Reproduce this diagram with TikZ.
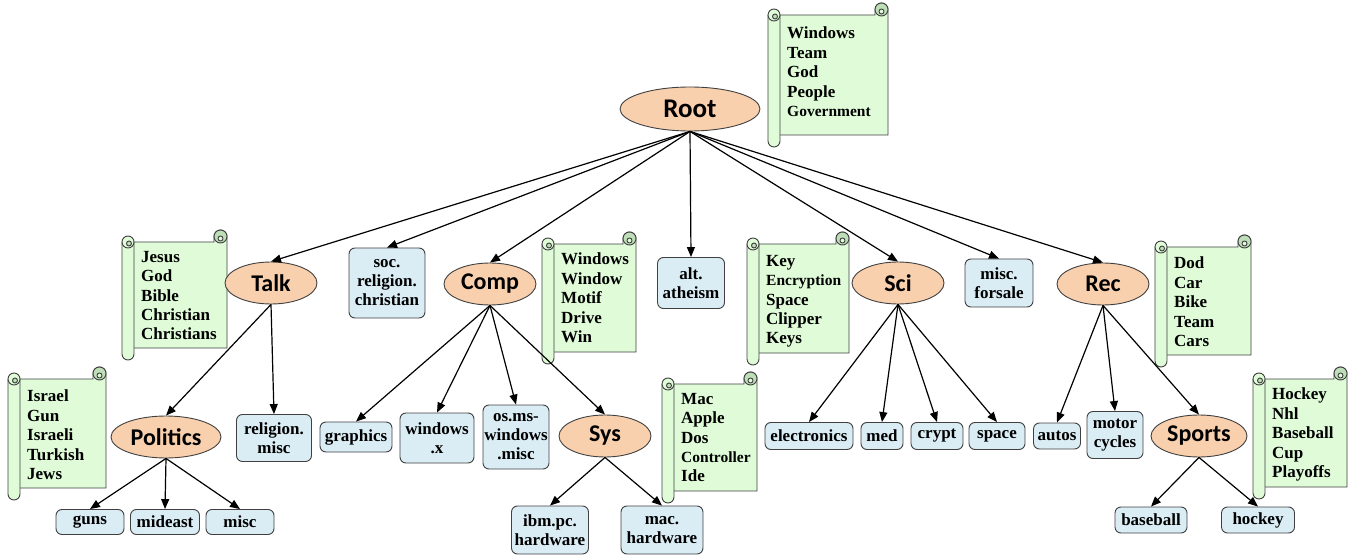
\documentclass[tikz,border=0pt]{standalone}
\usepackage{fontspec}
\setmainfont{Liberation Serif}
\newfontfamily\ellfont{Carlito}
\usetikzlibrary{arrows.meta,shapes.geometric}
\definecolor{scrollfill}{RGB}{223,251,216}
\definecolor{scrolldark}{RGB}{190,222,184}
\definecolor{leafblue}{RGB}{218,236,244}
\definecolor{peach}{RGB}{249,208,174}
\definecolor{edgegray}{RGB}{64,64,64}
\tikzset{
  topic/.style={ellipse, draw=edgegray, line width=0.9pt, fill=peach, inner sep=0pt,
    minimum width=92pt, minimum height=42pt, font=\ellfont\bfseries\fontsize{24}{26}\selectfont},
  leaf/.style={draw=edgegray, line width=0.9pt, fill=leafblue, rounded corners=6pt,
    inner sep=0pt, align=center, font=\bfseries\fontsize{17}{19}\selectfont},
  link/.style={line width=1.2pt, -{Triangle[length=10pt,width=8pt]}},
  scrollline/.style={draw=edgegray, line width=0.9pt},
  words/.style={inner sep=0pt, align=left, font=\bfseries\fontsize{17}{19.4}\selectfont},
}
\newcommand{\wordscroll}[7]{%
  \draw[scrollline, fill=scrollfill] ({#2+6},{#3+12}) -- ({#4-13},{#3+12}) -- ({#4-13},{#3+6.5})
     arc[start angle=180,end angle=360,radius=6.5] -- (#4,{#5-12}) -- ({#2+6},{#5-12}) -- cycle;
  \draw[scrollline, fill=scrolldark] ({#4-6.5},{#3+6.5}) circle[radius=6.5];
  \draw[scrollline, fill=scrollfill] ({#4-6.5},{#3+8.5}) circle[radius=2.5];
  \draw[scrollline, fill=scrollfill] (#2,{#3+12}) -- (#2,{#5-6})
     arc[start angle=180,end angle=0,radius=6] -- ({#2+12},{#3+12});
  \draw[scrollline, fill=scrollfill] ({#2+6},{#3+12}) circle[radius=6];
  \draw[scrollline, fill=scrolldark] ({#2+7},{#3+13.5}) circle[radius=2.5];
  \node[words, anchor=north west] (#1) at ({#2+19},{#3+#6}) {#7};
}
\begin{document}
\begin{tikzpicture}[x=1pt,y=-1pt]
\useasboundingbox (0,0) rectangle (1355,556);

% scrolls
\wordscroll{rootwords}{768}{3}{888}{147}{24}{Windows\\Team\\God\\People\\{\fontsize{15.5}{19.4}\selectfont Government}}
\wordscroll{talkwords}{122}{230}{227}{360}{21}{Jesus\\God\\Bible\\Christian\\Christians}
\wordscroll{polwords}{8}{367}{106}{500}{23}{Israel\\Gun\\Israeli\\Turkish\\Jews}
\wordscroll{compwords}{542}{232}{636}{364}{21}{Windows\\Window\\Motif\\Drive\\Win}
\wordscroll{sciwords}{747}{232}{849}{365}{23}{Key\\{\fontsize{15.5}{19.4}\selectfont Encryption}\\Space\\Clipper\\Keys}
\wordscroll{recwords}{1155}{235}{1251}{367}{22}{Dod\\Car\\Bike\\Team\\Cars}
\wordscroll{syswords}{662}{372}{757}{503}{21}{Mac\\Apple\\Dos\\{\fontsize{15.5}{19.4}\selectfont Controller}\\Ide}
\wordscroll{sportswords}{1253}{367}{1347}{499}{21}{Hockey\\Nhl\\Baseball\\Cup\\Playoffs}

% topic nodes
\node[topic, minimum width=140pt, minimum height=44pt, font=\ellfont\bfseries\fontsize{27}{29}\selectfont] (root) at (690,109) {Root};
\node[topic] (talk) at (271,283) {Talk};
\node[topic] (comp) at (490,284) {Comp};
\node[topic] (sci) at (898,283) {Sci};
\node[topic] (rec) at (1103,284) {Rec};
\node[topic, minimum width=110pt] (politics) at (166,437) {Politics};
\node[topic] (sys) at (605,436) {Sys};
\node[topic, minimum width=96pt] (sports) at (1199,436) {Sports};

% leaf nodes
\node[leaf, minimum width=76pt, minimum height=70pt] (soc) at (387,283) {soc.\\religion.\\christian};
\node[leaf, minimum width=67pt, minimum height=51pt] (alt) at (691,283) {alt.\\atheism};
\node[leaf, minimum width=68pt, minimum height=48pt] (forsale) at (999,283) {misc.\\forsale};
\node[leaf, minimum width=75pt, minimum height=47pt] (relmisc) at (274,438) {religion.\\misc};
\node[leaf, minimum width=72pt, minimum height=30pt] (graphics) at (356,437) {graphics};
\node[leaf, minimum width=74pt, minimum height=50pt] (winx) at (437,438) {windows\\.x};
\node[leaf, minimum width=66pt, minimum height=64pt] (osms) at (516,437) {os.ms-\\windows\\.misc};
\node[leaf, minimum width=88pt, minimum height=27pt] (electronics) at (809,436) {electronics};
\node[leaf, minimum width=42pt, minimum height=27pt] (med) at (882,436) {med};
\node[leaf, minimum width=52pt, minimum height=27pt] (crypt) at (937,436) {crypt};
\node[leaf, minimum width=56pt, minimum height=27pt] (space) at (997,436) {space};
\node[leaf, minimum width=47pt, minimum height=26pt] (autos) at (1057,436) {autos};
\node[leaf, minimum width=56pt, minimum height=47pt] (motor) at (1115,435) {motor\\cycles};
\node[leaf, minimum width=68pt, minimum height=25pt] (guns) at (90,522) {guns};
\node[leaf, minimum width=69pt, minimum height=25pt] (mideast) at (165,522) {mideast};
\node[leaf, minimum width=68pt, minimum height=25pt] (misc) at (240,522) {misc};
\node[leaf, minimum width=77pt, minimum height=48pt] (ibm) at (550,530) {ibm.pc.\\hardware};
\node[leaf, minimum width=82pt, minimum height=48pt] (mac) at (662,530) {mac.\\hardware};
\node[leaf, minimum width=72pt, minimum height=26pt] (baseball) at (1151,520) {baseball};
\node[leaf, minimum width=73pt, minimum height=26pt] (hockey) at (1258,520) {hockey};

% connectors
\foreach \t in {talk,soc,comp,alt,sci,forsale,rec}
  \draw[link] (root.south) -- (\t.north);
\draw[link] (talk.south) -- (politics.north);
\draw[link] (talk.south) -- (relmisc.north);
\foreach \t in {guns,mideast,misc}
  \draw[link] (politics.south) -- (\t.north);
\foreach \t in {graphics,winx,osms,sys}
  \draw[link] (comp.south) -- (\t.north);
\foreach \t in {ibm,mac}
  \draw[link] (sys.south) -- (\t.north);
\foreach \t in {electronics,med,crypt,space}
  \draw[link] (sci.south) -- (\t.north);
\foreach \t in {autos,motor,sports}
  \draw[link] (rec.south) -- (\t.north);
\foreach \t in {baseball,hockey}
  \draw[link] (sports.south) -- (\t.north);
\end{tikzpicture}
\end{document}
